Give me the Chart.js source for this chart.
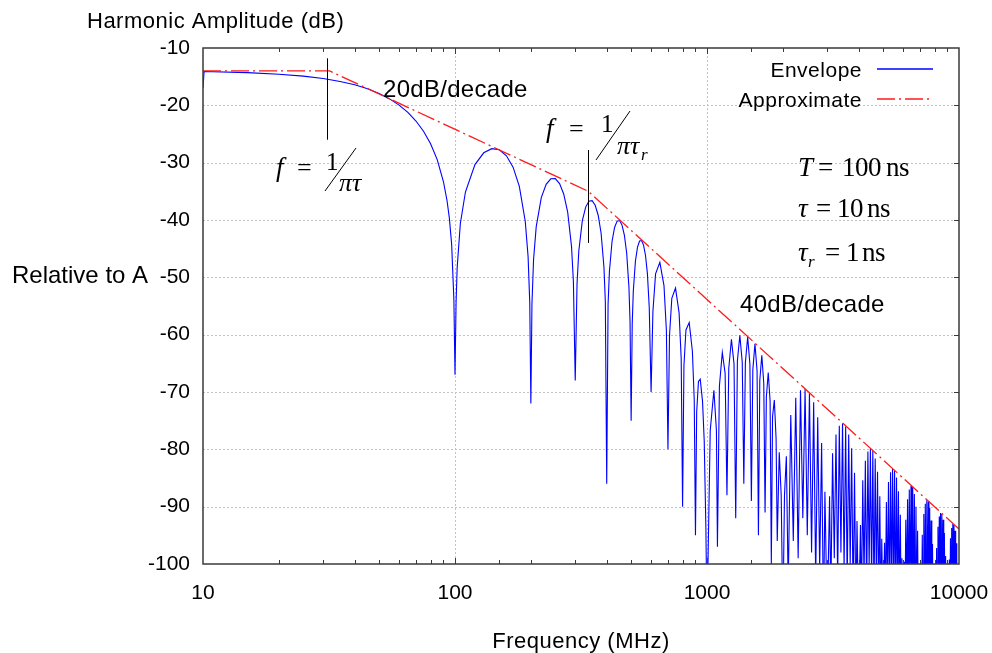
<!DOCTYPE html>
<html>
<head>
<meta charset="utf-8">
<script src="https://cdn.jsdelivr.net/npm/chart.js@4.4.1/dist/chart.umd.min.js"></script>
<style>
  html, body { margin: 0; padding: 0; background: #fff; }
  canvas { display: block; }
</style>
</head>
<body>
<canvas id="chart" width="992" height="653"></canvas>
<script>
// envelope of the trapezoid spectrum (MHz / dB)
const envFreq = [
  10, 10.1, 15, 20, 25, 30, 35, 40, 45, 50, 55, 60, 65, 70, 75, 80, 85, 90, 93, 95, 97, 99, 100,
  101, 102, 105, 110, 120, 130, 140, 150, 160, 170, 180, 190, 195, 198, 200,
  202, 205, 210, 220, 230, 240, 250, 260, 270, 280, 290, 295, 300,
  305, 310, 320, 330, 340, 350, 360, 370, 380, 390, 395, 400,
  405, 410, 420, 430, 440, 450, 460, 470, 480, 490, 495, 500,
  505, 510, 520, 530, 540, 550, 560, 570, 580, 590, 600,
  610, 625, 650, 675, 690, 700,
  710, 725, 750, 775, 790, 800,
  810, 825, 850, 875, 890, 900,
  910, 925, 940, 960, 975, 990, 1000,
  1030, 1065, 1090, 1100, 1120, 1150, 1180, 1200, 1220, 1250, 1280, 1300,
  1320, 1350, 1380, 1400, 1420, 1450, 1480, 1500, 1520, 1550, 1580, 1600,
  1620, 1650, 1680, 1700, 1720, 1750, 1780, 1800, 1820, 1850, 1880, 1900,
  1935, 1970, 2000, 2030, 2065,
  2100, 2150, 2200, 2250, 2300, 2350, 2400, 2450, 2500, 2550, 2600, 2650,
  2700, 2750, 2800, 2850, 2900, 2937, 3000, 3065, 3100, 3150, 3200, 3250,
  3300, 3350, 3400, 3450, 3500, 3550, 3600, 3650, 3700, 3750, 3800, 3850,
  3900, 3937, 4000, 4065, 4100, 4150, 4200, 4250, 4300, 4350, 4400, 4450,
  4500, 4550, 4600, 4650, 4700, 4750, 4800, 4850, 4900, 4937, 5000, 5065,
  5100, 5150, 5200, 5250, 5300, 5350, 5400, 5450, 5500, 5550, 5600, 5650,
  5700, 5750, 5800, 5850, 5900, 5937, 6000, 6065, 6100, 6150, 6200, 6250,
  6300, 6350, 6400, 6450, 6500, 6550, 6600, 6650, 6700, 6750, 6800, 6850,
  6900, 6937, 7000, 7065, 7100, 7150, 7200, 7250, 7300, 7350, 7400, 7450,
  7500, 7550, 7600, 7650, 7700, 7750, 7800, 7850, 7900, 7937, 8000, 8065,
  8100, 8150, 8200, 8250, 8300, 8350, 8400, 8450, 8500, 8550, 8600, 8650,
  8700, 8750, 8800, 8850, 8900, 8937, 9000, 9065, 9100, 9150, 9200, 9250,
  9300, 9350, 9400, 9450, 9500, 9550, 9600, 9650, 9700, 9750, 9800, 9850,
  9900, 9950, 10000
];
const envDb = [
  -17, -14.1, -14.3, -14.57, -14.9, -15.32, -15.83, -16.42, -17.12, -17.94, -18.88, -19.97, -21.24, -22.74, -24.51, -26.69, -29.47, -33.33, -36.64, -39.72, -44.3, -54, -67,
  -54.3, -48.3, -40.6, -35.12, -30.33, -28.28, -27.56, -27.76, -28.81, -30.79, -34.12, -40.22, -46.39, -54.4, -72,
  -54.7, -46.88, -41.21, -36.09, -33.77, -32.81, -32.79, -33.65, -35.46, -38.64, -44.61, -50.71, -68,
  -51.09, -45.37, -40.16, -37.75, -36.71, -36.63, -37.43, -39.17, -42.31, -48.23, -54.31, -86,
  -54.66, -48.93, -43.7, -41.25, -40.2, -40.09, -40.89, -42.62, -45.76, -51.67, -57.75, -75,
  -58.1, -52.37, -47.14, -44.72, -43.67, -43.59, -44.38, -46.15, -49.3, -55.25, -70,
  -56, -49.4, -47.38, -51.43, -59.27, -80,
  -60.16, -53.67, -51.87, -56.2, -64.22, -90,
  -65.41, -59.17, -57.9, -62.9, -71.45, -95,
  -73.5, -68.15, -67.77, -71.64, -78.54, -93.9, -110,
  -76.7, -69.7, -76.7, -97, -69, -63.1, -66.7, -88, -65.9, -60.8, -65.1, -92,
  -64.6, -60.1, -64.8, -86, -64.9, -60.4, -65.1, -89, -66.1, -61.6, -66.3, -95,
  -68, -63.6, -68.5, -91, -70.9, -66.6, -71.6, -100, -74.3, -71.4, -78.1, -96,
  -80.5, -88, -110, -88, -81.2,
  -104, -74, -96, -71, -99, -69.7, -92, -69.5, -95, -70.2, -98, -71.8,
  -103, -74.4, -101, -78.9, -110, -87.4, -110, -88.2, -106, -80.7, -99, -77.4,
  -103, -75.9, -98, -75.5, -101, -76, -104, -77.4, -100, -79.8, -107, -84.1,
  -110, -92.5, -110, -93.2, -108, -85.4, -103, -82, -106, -80.4, -101, -79.9,
  -104, -80.3, -107, -81.6, -103, -83.9, -108, -88.2, -110, -95.6, -110, -96.3,
  -108, -89.2, -105, -85.7, -107, -84, -104, -83.4, -106, -83.7, -108, -84.9,
  -105, -87.3, -109, -91.4, -110, -99, -110, -99.6, -109, -92.3, -106, -88.7,
  -108, -87, -105, -86.4, -107, -86.6, -109, -87.8, -106, -90, -110, -94.2,
  -110, -102, -110, -102.5, -110, -94.9, -107, -91.3, -109, -89.5, -106, -88.9,
  -108, -89.1, -110, -90.2, -107, -92.4, -110, -96.5, -110, -104, -110, -104.5,
  -110, -97.2, -108, -93.5, -110, -91.7, -107, -91.1, -109, -91.3, -110, -92.3,
  -108, -94.6, -110, -98.6, -110, -106, -110, -106, -110, -99.2, -109, -95.5,
  -110, -93.7, -108, -93, -110, -93.2, -110, -94.2, -109, -96.4, -110, -100.5,
  -110, -107, -110
];

// asymptotic approximation: flat, -20 dB/decade, -40 dB/decade
const approxFreq = [10, 31.8, 338, 10000];
const approxDb = [-14, -14, -35, -93.9];

// corner-frequency marker lines
const markerFreq = [31, 338];
const markerTopDb = [-11.8, -27.8];
const markerBottomDb = [-26.0, -44.0];

const yTicks = [-100, -90, -80, -70, -60, -50, -40, -30, -20, -10];

const BLUE = '#0000ff';
const RED = '#ff1a1a';
const RED_DASH = [18, 4, 2, 4];
const SANS = "'Liberation Sans', Arial, sans-serif";
const SERIF = "'Liberation Serif', 'Times New Roman', serif";

function put(ctx, s, x, y, font, align, spacing) {
  ctx.font = font;
  ctx.textAlign = align || 'left';
  ctx.letterSpacing = spacing || '0px';
  ctx.fillText(s, x, y);
}

const decorations = {
  id: 'decorations',
  beforeDatasetsDraw(chart) {
    const { ctx, chartArea: a, scales: { x, y } } = chart;
    ctx.save();
    ctx.strokeStyle = '#c2c2c2';
    ctx.lineWidth = 1;
    ctx.setLineDash([2, 2]);
    ctx.beginPath();
    x.ticks.forEach(t => {
      const lg = Math.log10(t.value);
      if (Math.abs(lg - Math.round(lg)) > 1e-6) return;
      if (t.value <= 10 || t.value >= 10000) return;
      const px = Math.round(x.getPixelForValue(t.value)) + 0.5;
      ctx.moveTo(px, a.top);
      ctx.lineTo(px, a.bottom);
    });
    yTicks.slice(1, -1).forEach(v => {
      const py = Math.round(y.getPixelForValue(v)) + 0.5;
      ctx.moveTo(a.left, py);
      ctx.lineTo(a.right, py);
    });
    ctx.stroke();
    ctx.restore();
  },
  afterDatasetsDraw(chart) {
    const { ctx, chartArea: a, scales: { x, y } } = chart;
    ctx.save();

    // frame
    ctx.setLineDash([]);
    ctx.strokeStyle = '#3a3a3a';
    ctx.lineWidth = 1.5;
    ctx.strokeRect(a.left, a.top, a.right - a.left, a.bottom - a.top);

    // inward ticks
    ctx.lineWidth = 1;
    ctx.beginPath();
    x.ticks.forEach(t => {
      if (t.value <= 10 || t.value >= 10000) return;
      const lg = Math.log10(t.value);
      const len = Math.abs(lg - Math.round(lg)) < 1e-6 ? 6 : 4;
      const px = Math.round(x.getPixelForValue(t.value)) + 0.5;
      ctx.moveTo(px, a.bottom); ctx.lineTo(px, a.bottom - len);
      ctx.moveTo(px, a.top); ctx.lineTo(px, a.top + len);
    });
    yTicks.slice(1, -1).forEach(v => {
      const py = Math.round(y.getPixelForValue(v)) + 0.5;
      ctx.moveTo(a.right, py); ctx.lineTo(a.right - 5, py);
    });
    ctx.stroke();

    // marker lines
    ctx.strokeStyle = '#000';
    ctx.lineWidth = 1;
    ctx.beginPath();
    markerFreq.forEach((f, i) => {
      const px = Math.round(x.getPixelForValue(f)) + 0.5;
      ctx.moveTo(px, y.getPixelForValue(markerTopDb[i]));
      ctx.lineTo(px, y.getPixelForValue(markerBottomDb[i]));
    });
    ctx.stroke();

    ctx.fillStyle = '#000';
    ctx.textBaseline = 'alphabetic';

    // axis titles
    put(ctx, 'Harmonic Amplitude (dB)', 87, 27.5, '22px ' + SANS, 'left', '0.5px');
    put(ctx, 'Relative to A', 12, 282.5, '24px ' + SANS);
    put(ctx, 'Frequency (MHz)', (a.left + a.right) / 2, 647.5, '22px ' + SANS, 'center', '0.5px');

    // slope labels
    put(ctx, '20dB/decade', 383, 96.5, '24px ' + SANS, 'left', '0.3px');
    put(ctx, '40dB/decade', 740, 311.5, '24px ' + SANS, 'left', '0.3px');

    // f = 1/πτ
    put(ctx, 'f', 276, 176, 'italic 27px ' + SERIF);
    put(ctx, '=', 297, 176, '26px ' + SERIF);
    put(ctx, '1', 326, 170, '25px ' + SERIF);
    put(ctx, 'πτ', 339, 191, 'italic 26px ' + SERIF);
    // f = 1/πτr
    put(ctx, 'f', 546, 137, 'italic 27px ' + SERIF);
    put(ctx, '=', 569, 137, '26px ' + SERIF);
    put(ctx, '1', 601, 131.5, '25px ' + SERIF);
    put(ctx, 'πτ', 617, 153.5, 'italic 26px ' + SERIF);
    put(ctx, 'r', 641, 160, 'italic 17px ' + SERIF);
    ctx.lineWidth = 1;
    ctx.beginPath();
    ctx.moveTo(325, 191); ctx.lineTo(356, 148);
    ctx.moveTo(596, 160); ctx.lineTo(630, 111);
    ctx.stroke();

    // parameters
    put(ctx, 'T', 798, 176, 'italic 27px ' + SERIF);
    put(ctx, '=', 818, 176, '27px ' + SERIF);
    put(ctx, '100', 842, 176, '27px ' + SERIF, 'left', '-0.5px');
    put(ctx, 'ns', 886, 176, '27px ' + SERIF, 'left', '-0.5px');
    put(ctx, 'τ', 798, 217, 'italic 27px ' + SERIF);
    put(ctx, '=', 816, 217, '27px ' + SERIF);
    put(ctx, '10', 837, 217, '27px ' + SERIF, 'left', '-0.5px');
    put(ctx, 'ns', 867, 217, '27px ' + SERIF, 'left', '-0.5px');
    put(ctx, 'τ', 798, 260.5, 'italic 27px ' + SERIF);
    put(ctx, 'r', 808, 267, 'italic 17px ' + SERIF);
    put(ctx, '=', 825, 260.5, '27px ' + SERIF);
    put(ctx, '1', 846, 260.5, '27px ' + SERIF);
    put(ctx, 'ns', 862, 260.5, '27px ' + SERIF, 'left', '-0.5px');

    // legend
    const rows = [
      { label: chart.data.datasets[0].label, base: 77.3, line: 69, color: BLUE, dash: [] },
      { label: chart.data.datasets[1].label, base: 107.3, line: 99, color: RED, dash: RED_DASH }
    ];
    rows.forEach(r => {
      ctx.fillStyle = '#000';
      put(ctx, r.label, 862, r.base, '21px ' + SANS, 'right', '0.5px');
      ctx.strokeStyle = r.color;
      ctx.lineWidth = 1.5;
      ctx.setLineDash(r.dash);
      ctx.beginPath();
      ctx.moveTo(877, r.line); ctx.lineTo(933, r.line);
      ctx.stroke();
    });
    ctx.restore();
  }
};

new Chart(document.getElementById('chart').getContext('2d'), {
  type: 'line',
  data: {
    datasets: [
      {
        label: 'Envelope',
        data: envFreq.map((f, i) => ({ x: f, y: envDb[i] })),
        borderColor: BLUE,
        borderWidth: 1.1,
        pointRadius: 0,
        tension: 0,
        fill: false,
        order: 2
      },
      {
        label: 'Approximate',
        data: approxFreq.map((f, i) => ({ x: f, y: approxDb[i] })),
        borderColor: RED,
        borderWidth: 1.3,
        borderDash: RED_DASH,
        pointRadius: 0,
        fill: false,
        order: 1
      }
    ]
  },
  options: {
    responsive: false,
    animation: false,
    events: [],
    layout: { padding: { top: 48, right: 33, left: 0, bottom: 0 } },
    plugins: { legend: { display: false }, tooltip: { enabled: false } },
    scales: {
      x: {
        type: 'logarithmic',
        min: 10,
        max: 10000,
        grid: { display: false, drawTicks: false },
        border: { display: false },
        ticks: {
          autoSkip: false,
          maxRotation: 0,
          padding: 17,
          color: '#000',
          font: { family: SANS, size: 21 },
          callback: v => {
            const lg = Math.log10(v);
            return Math.abs(lg - Math.round(lg)) < 1e-6 ? String(v) : '';
          }
        },
        afterFit: s => { s.height = 89; s.paddingLeft = 0; s.paddingRight = 0; }
      },
      y: {
        min: -100,
        max: -10,
        grid: { display: false, drawTicks: false },
        border: { display: false },
        ticks: {
          stepSize: 10,
          padding: 13,
          color: '#000',
          font: { family: SANS, size: 21 }
        },
        afterFit: s => { s.width = 203; s.paddingTop = 0; s.paddingBottom = 0; }
      }
    }
  },
  plugins: [decorations]
});
</script>
</body>
</html>
